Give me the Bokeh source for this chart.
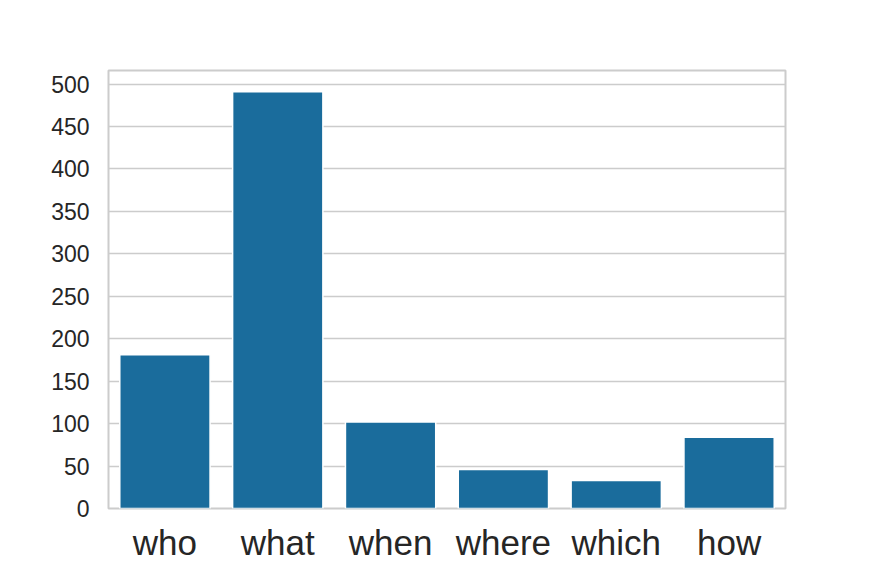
from bokeh.plotting import figure
from bokeh.models import FactorRange, Range1d, FixedTicker, ColumnDataSource
from bokeh.embed import file_html
from bokeh.resources import INLINE

categories = ["who", "what", "when", "where", "which", "how"]
counts = [181, 491, 102, 46, 33, 84]
y_ticks = [0, 50, 100, 150, 200, 250, 300, 350, 400, 450, 500]

src = ColumnDataSource(data=dict(cat=categories, val=counts))

p = figure(
    x_range=FactorRange(*categories, range_padding=0),
    y_range=Range1d(0, 516),
    width=856, height=565,
    frame_width=677, frame_height=438,
    min_border_left=108, min_border_top=70, min_border_right=71, min_border_bottom=57,
    output_backend="svg", toolbar_location=None,
    background_fill_color="white", border_fill_color="white",
)

p.vbar(x="cat", top="val", width=0.8, source=src,
       fill_color="#1a6c9c", line_color="white", line_width=1.5)

p.outline_line_color = "#cccccc"
p.outline_line_width = 2

p.xgrid.grid_line_color = None
p.ygrid.grid_line_color = "#cccccc"
p.ygrid.grid_line_width = 1.5
p.yaxis.ticker = FixedTicker(ticks=y_ticks)

for ax in (p.xaxis, p.yaxis):
    ax.axis_line_color = None
    ax.major_tick_line_color = None
    ax.minor_tick_line_color = None
    ax.major_label_text_font = "Liberation Sans"
    ax.major_label_text_color = "#262626"

p.yaxis.major_label_text_font_size = "23px"
p.yaxis.major_label_standoff = 13
p.xaxis.major_label_text_font_size = "35px"
p.xaxis.major_label_standoff = 8

open("out.html", "w").write(file_html(p, INLINE))
